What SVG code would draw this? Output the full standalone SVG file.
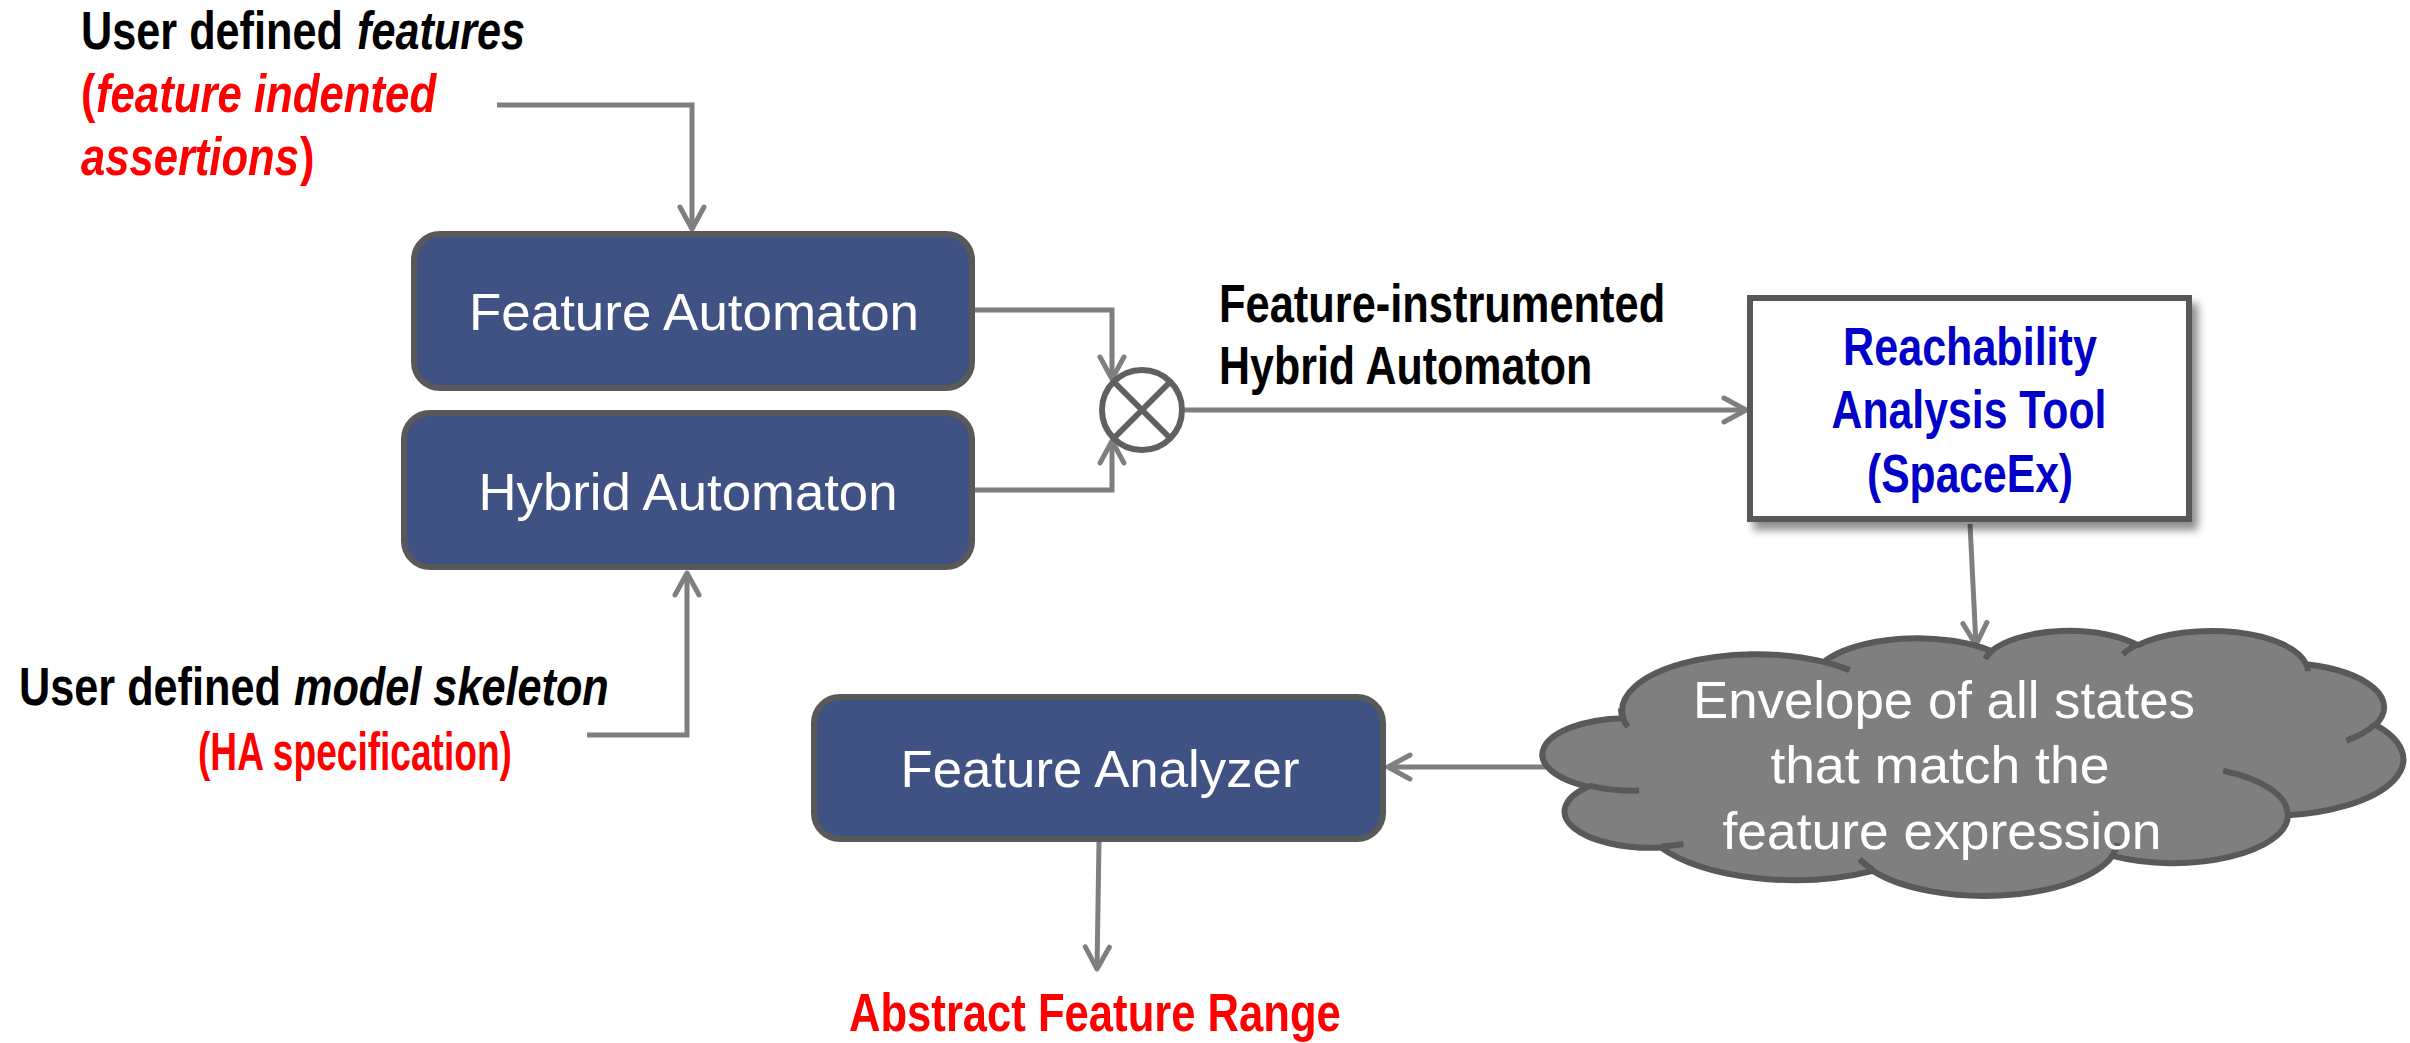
<svg xmlns="http://www.w3.org/2000/svg" width="2410" height="1043" viewBox="0 0 2410 1043">
  <style>
    .box { fill: #3f5283; stroke: #595959; stroke-width: 6; }
    .lbl { font-family: 'Liberation Sans', Arial, sans-serif; font-size: 52px; fill: #ffffff; }
    .bold { font-family: 'Liberation Sans', Arial, sans-serif; font-size: 53px; font-weight: bold; }
    .it { font-style: italic; }
    .red { fill: #ff0000; }
    .blk { fill: #000000; }
    .blue { fill: #0000c8; }
    .wire { fill: none; stroke: #7f7f7f; stroke-width: 5; }
    .ring { fill: #ffffff; stroke: #606060; stroke-width: 6; }
    .cross { stroke: #606060; stroke-width: 6; }
  </style>
  <defs>
    <marker id="arr" viewBox="-28 -16 32 32" refX="0" refY="0" markerWidth="32" markerHeight="32" markerUnits="userSpaceOnUse" orient="auto">
      <path d="M -22 -12 L 0 0 L -22 12" fill="none" stroke="#7f7f7f" stroke-width="5" stroke-linecap="round" stroke-linejoin="round"/>
    </marker>
    <filter id="shadow" x="-10%" y="-10%" width="130%" height="140%">
      <feDropShadow dx="6" dy="8" stdDeviation="4" flood-color="#000000" flood-opacity="0.45"/>
    </filter>
  </defs>
  <rect width="2410" height="1043" fill="#ffffff"/>

  <!-- free-standing labels (bold, horizontally condensed) -->
  <g id="features-label">
    <text transform="translate(81,49) scale(0.816,1)" class="bold blk">User defined</text>
    <text transform="translate(357,49) scale(0.815,1)" class="bold blk it">features</text>
    <text transform="translate(81,112) scale(0.82,1)" class="bold red">(</text>
    <text transform="translate(96,112) scale(0.825,1)" class="bold red it">feature indented</text>
    <text transform="translate(81,175) scale(0.822,1)" class="bold red it">assertions</text>
    <text transform="translate(300,175) scale(0.82,1)" class="bold red">)</text>
  </g>
  <g id="skeleton-label">
    <text transform="translate(19,705) scale(0.816,1)" class="bold blk">User defined</text>
    <text transform="translate(294,705) scale(0.816,1)" class="bold blk it">model skeleton</text>
    <text transform="translate(198,770) scale(0.70,1)" class="bold red">(HA specification)</text>
  </g>
  <g id="instrumented-label">
    <text transform="translate(1219,322) scale(0.819,1)" class="bold blk">Feature-instrumented</text>
    <text transform="translate(1219,384) scale(0.811,1)" class="bold blk">Hybrid Automaton</text>
  </g>
  <g id="range-label">
    <text transform="translate(849,1031) scale(0.823,1)" class="bold red">Abstract Feature Range</text>
  </g>

  <!-- connectors -->
  <g id="connectors">
    <polyline class="wire" points="497,105 692,105 692,229" marker-end="url(#arr)"/>
    <polyline class="wire" points="587,735 687,735 687,573" marker-end="url(#arr)"/>
    <polyline class="wire" points="975,310 1112,310 1112,379" marker-end="url(#arr)"/>
    <polyline class="wire" points="975,490 1112,490 1112,441" marker-end="url(#arr)"/>
    <line class="wire" x1="1185" y1="410" x2="1746" y2="410" marker-end="url(#arr)"/>
    <line class="wire" x1="1970" y1="524" x2="1976" y2="645" marker-end="url(#arr)"/>
    <line class="wire" x1="1550" y1="767" x2="1388" y2="767" marker-end="url(#arr)"/>
    <line class="wire" x1="1099" y1="842" x2="1097" y2="969" marker-end="url(#arr)"/>
  </g>

  <!-- product junction -->
  <g id="junction">
    <circle class="ring" cx="1142" cy="410" r="40"/>
    <line class="cross" x1="1114" y1="382" x2="1170" y2="438"/>
    <line class="cross" x1="1170" y1="382" x2="1114" y2="438"/>
  </g>

  <g id="feature-automaton">
    <rect class="box" x="414" y="234" width="558" height="154" rx="26"/>
    <text x="694" y="330" class="lbl" text-anchor="middle" textLength="450" lengthAdjust="spacingAndGlyphs">Feature Automaton</text>
  </g>

  <g id="hybrid-automaton">
    <rect class="box" x="404" y="413" width="568" height="154" rx="26"/>
    <text x="688" y="510" class="lbl" text-anchor="middle" textLength="419" lengthAdjust="spacingAndGlyphs">Hybrid Automaton</text>
  </g>

  <g id="reachability-tool">
    <rect x="1750" y="298" width="439" height="221" fill="#ffffff" stroke="#595959" stroke-width="6" filter="url(#shadow)"/>
    <text transform="translate(1970,365) scale(0.813,1)" class="bold blue" text-anchor="middle">Reachability</text>
    <text transform="translate(1969,428) scale(0.807,1)" class="bold blue" text-anchor="middle">Analysis Tool</text>
    <text transform="translate(1970,492) scale(0.804,1)" class="bold blue" text-anchor="middle">(SpaceEx)</text>
  </g>

  <g id="envelope-cloud">
    <g transform="translate(1546,630) scale(0.019838,0.0061343)">
      <path d="M 3900 14370 A 6753 9190 0 0 1 14005 5202 A 5333 7267 0 0 1 22456 3433 A 4365 5945 0 0 1 29833 2482 A 4857 6595 0 0 1 38318 5577 A 5333 7273 0 0 1 41818 15461 A 6775 9220 0 0 1 37404 30204 A 5785 7867 0 0 1 28555 36814 A 6752 9215 0 0 1 16480 39266 A 7720 10543 0 0 1 5804 35470 A 4360 5918 0 0 1 2112 25548 A 4345 5945 0 0 1 3900 14370 Z" fill="#7f7f7f" stroke="#595959" stroke-width="6" stroke-linejoin="round" vector-effect="non-scaling-stroke"/>
      <path d="M 4693 26177 A 4345 5945 0 0 1 2160 25380 M 6928 34899 A 4360 5918 0 0 1 5820 35281 M 16478 39090 A 6752 9215 0 0 1 15810 37349 M 28827 34751 A 6752 9215 0 0 1 28560 36660 M 34129 22954 A 5785 7867 0 0 1 37380 30090 M 41798 15354 A 5333 7273 0 0 1 40350 18030 M 38324 5426 A 4857 6595 0 0 1 38400 6690 M 29078 3952 A 4857 6595 0 0 1 29820 2339 M 22141 4720 A 4365 5945 0 0 1 22500 3331 M 14000 5192 A 6753 9190 0 0 1 15301 6540 M 4127 15789 A 6753 9190 0 0 1 3782 12818" fill="none" stroke="#595959" stroke-width="6" vector-effect="non-scaling-stroke"/>
    </g>
    <text x="1944" y="718" class="lbl" text-anchor="middle" textLength="502" lengthAdjust="spacingAndGlyphs">Envelope of all states</text>
    <text x="1940" y="783" class="lbl" text-anchor="middle" textLength="339" lengthAdjust="spacingAndGlyphs">that match the</text>
    <text x="1942" y="849" class="lbl" text-anchor="middle" textLength="439" lengthAdjust="spacingAndGlyphs">feature expression</text>
  </g>

  <g id="feature-analyzer">
    <rect class="box" x="814" y="697" width="569" height="142" rx="26"/>
    <text x="1100" y="787" class="lbl" text-anchor="middle" textLength="399" lengthAdjust="spacingAndGlyphs">Feature Analyzer</text>
  </g>
</svg>
